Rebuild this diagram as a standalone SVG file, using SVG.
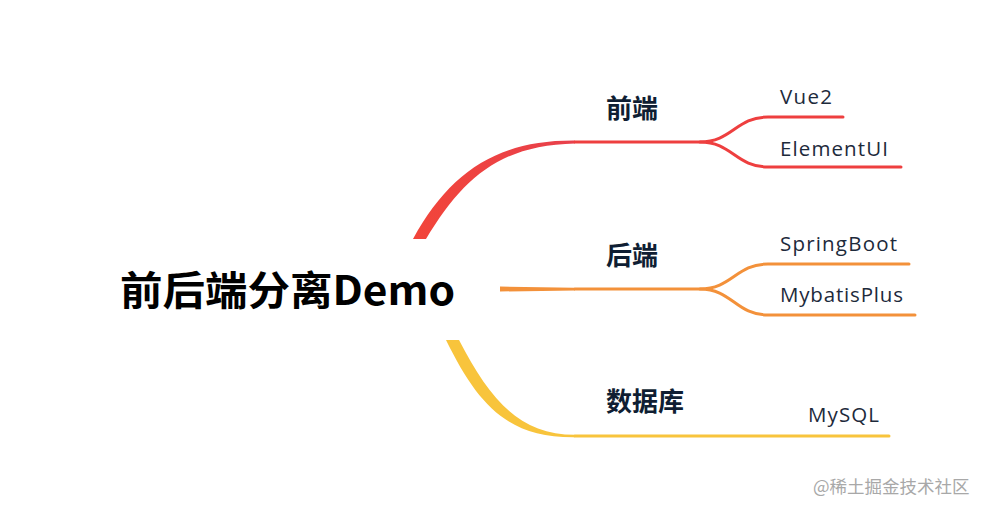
<svg xmlns="http://www.w3.org/2000/svg" width="991" height="513" viewBox="0 0 991 513">
<style>
.l{fill:none;stroke-width:3;stroke-linecap:round}
.r{stroke:#ee3f3f}.o{stroke:#f3913a}.y{stroke:#f8c43c}
.m{font-family:"Noto Sans CJK SC","Noto Sans",sans-serif;font-weight:bold;font-size:26px;fill:#0f1e33}
.c{font-family:"Open Sans","DejaVu Sans",sans-serif;font-size:20.5px;fill:#1d2a3b}
</style>
<defs>
<linearGradient id="gr" x1="0" y1="0" x2="1" y2="0"><stop offset="0" stop-color="#f2453a"/><stop offset="1" stop-color="#e8404c"/></linearGradient>
</defs>
<rect width="991" height="513" fill="#fff"/>
<g id="connectors">
<path d="M413 239 C450 172 497 140 575 140.6 L575 143.4 C500 145 463 178 426 239 Z" fill="url(#gr)"/>
<path class="l r" d="M575 142 L700 142 C732 142 736 117 768 117 L843 117"/>
<path class="l r" d="M700 142 C732 142 736 167 768 167 L901 167"/>
<path d="M500 286.5 L575 287.8 L575 290.4 L500 291.5 Z" fill="#f3913a"/>
<path class="l o" d="M575 289 L700 289 C732 289 736 264 768 264 L909 264"/>
<path class="l o" d="M700 289 C732 289 736 315 768 315 L915 315"/>
<path d="M459 340 C490 400 520 434.8 575 434.8 L575 437.3 C508 438 478 405 446 340 Z" fill="#f8c43c"/>
<path class="l y" d="M575 436 L889 436"/>
</g>
<g id="root"><text x="120" y="305" font-family="'Noto Sans CJK SC','Noto Sans',sans-serif" font-weight="bold" font-size="40" fill="#000" textLength="335" lengthAdjust="spacingAndGlyphs">前后端分离Demo</text></g>
<g id="n-frontend"><text class="m" x="606" y="118">前端</text></g>
<g id="n-backend"><text class="m" x="606" y="265">后端</text></g>
<g id="n-db"><text class="m" x="606" y="411">数据库</text></g>
<g id="n-vue"><text class="c" x="780" y="104" textLength="52">Vue2</text></g>
<g id="n-element"><text class="c" x="780" y="156" textLength="108">ElementUI</text></g>
<g id="n-spring"><text class="c" x="780" y="251" textLength="117">SpringBoot</text></g>
<g id="n-mybatis"><text class="c" x="780" y="302" textLength="123">MybatisPlus</text></g>
<g id="n-mysql"><text class="c" x="808" y="422" textLength="71">MySQL</text></g>
<text x="813" y="493" font-family="'Noto Sans CJK SC',sans-serif" font-size="17.5" fill="#a8a8a8">@稀土掘金技术社区</text>
</svg>
